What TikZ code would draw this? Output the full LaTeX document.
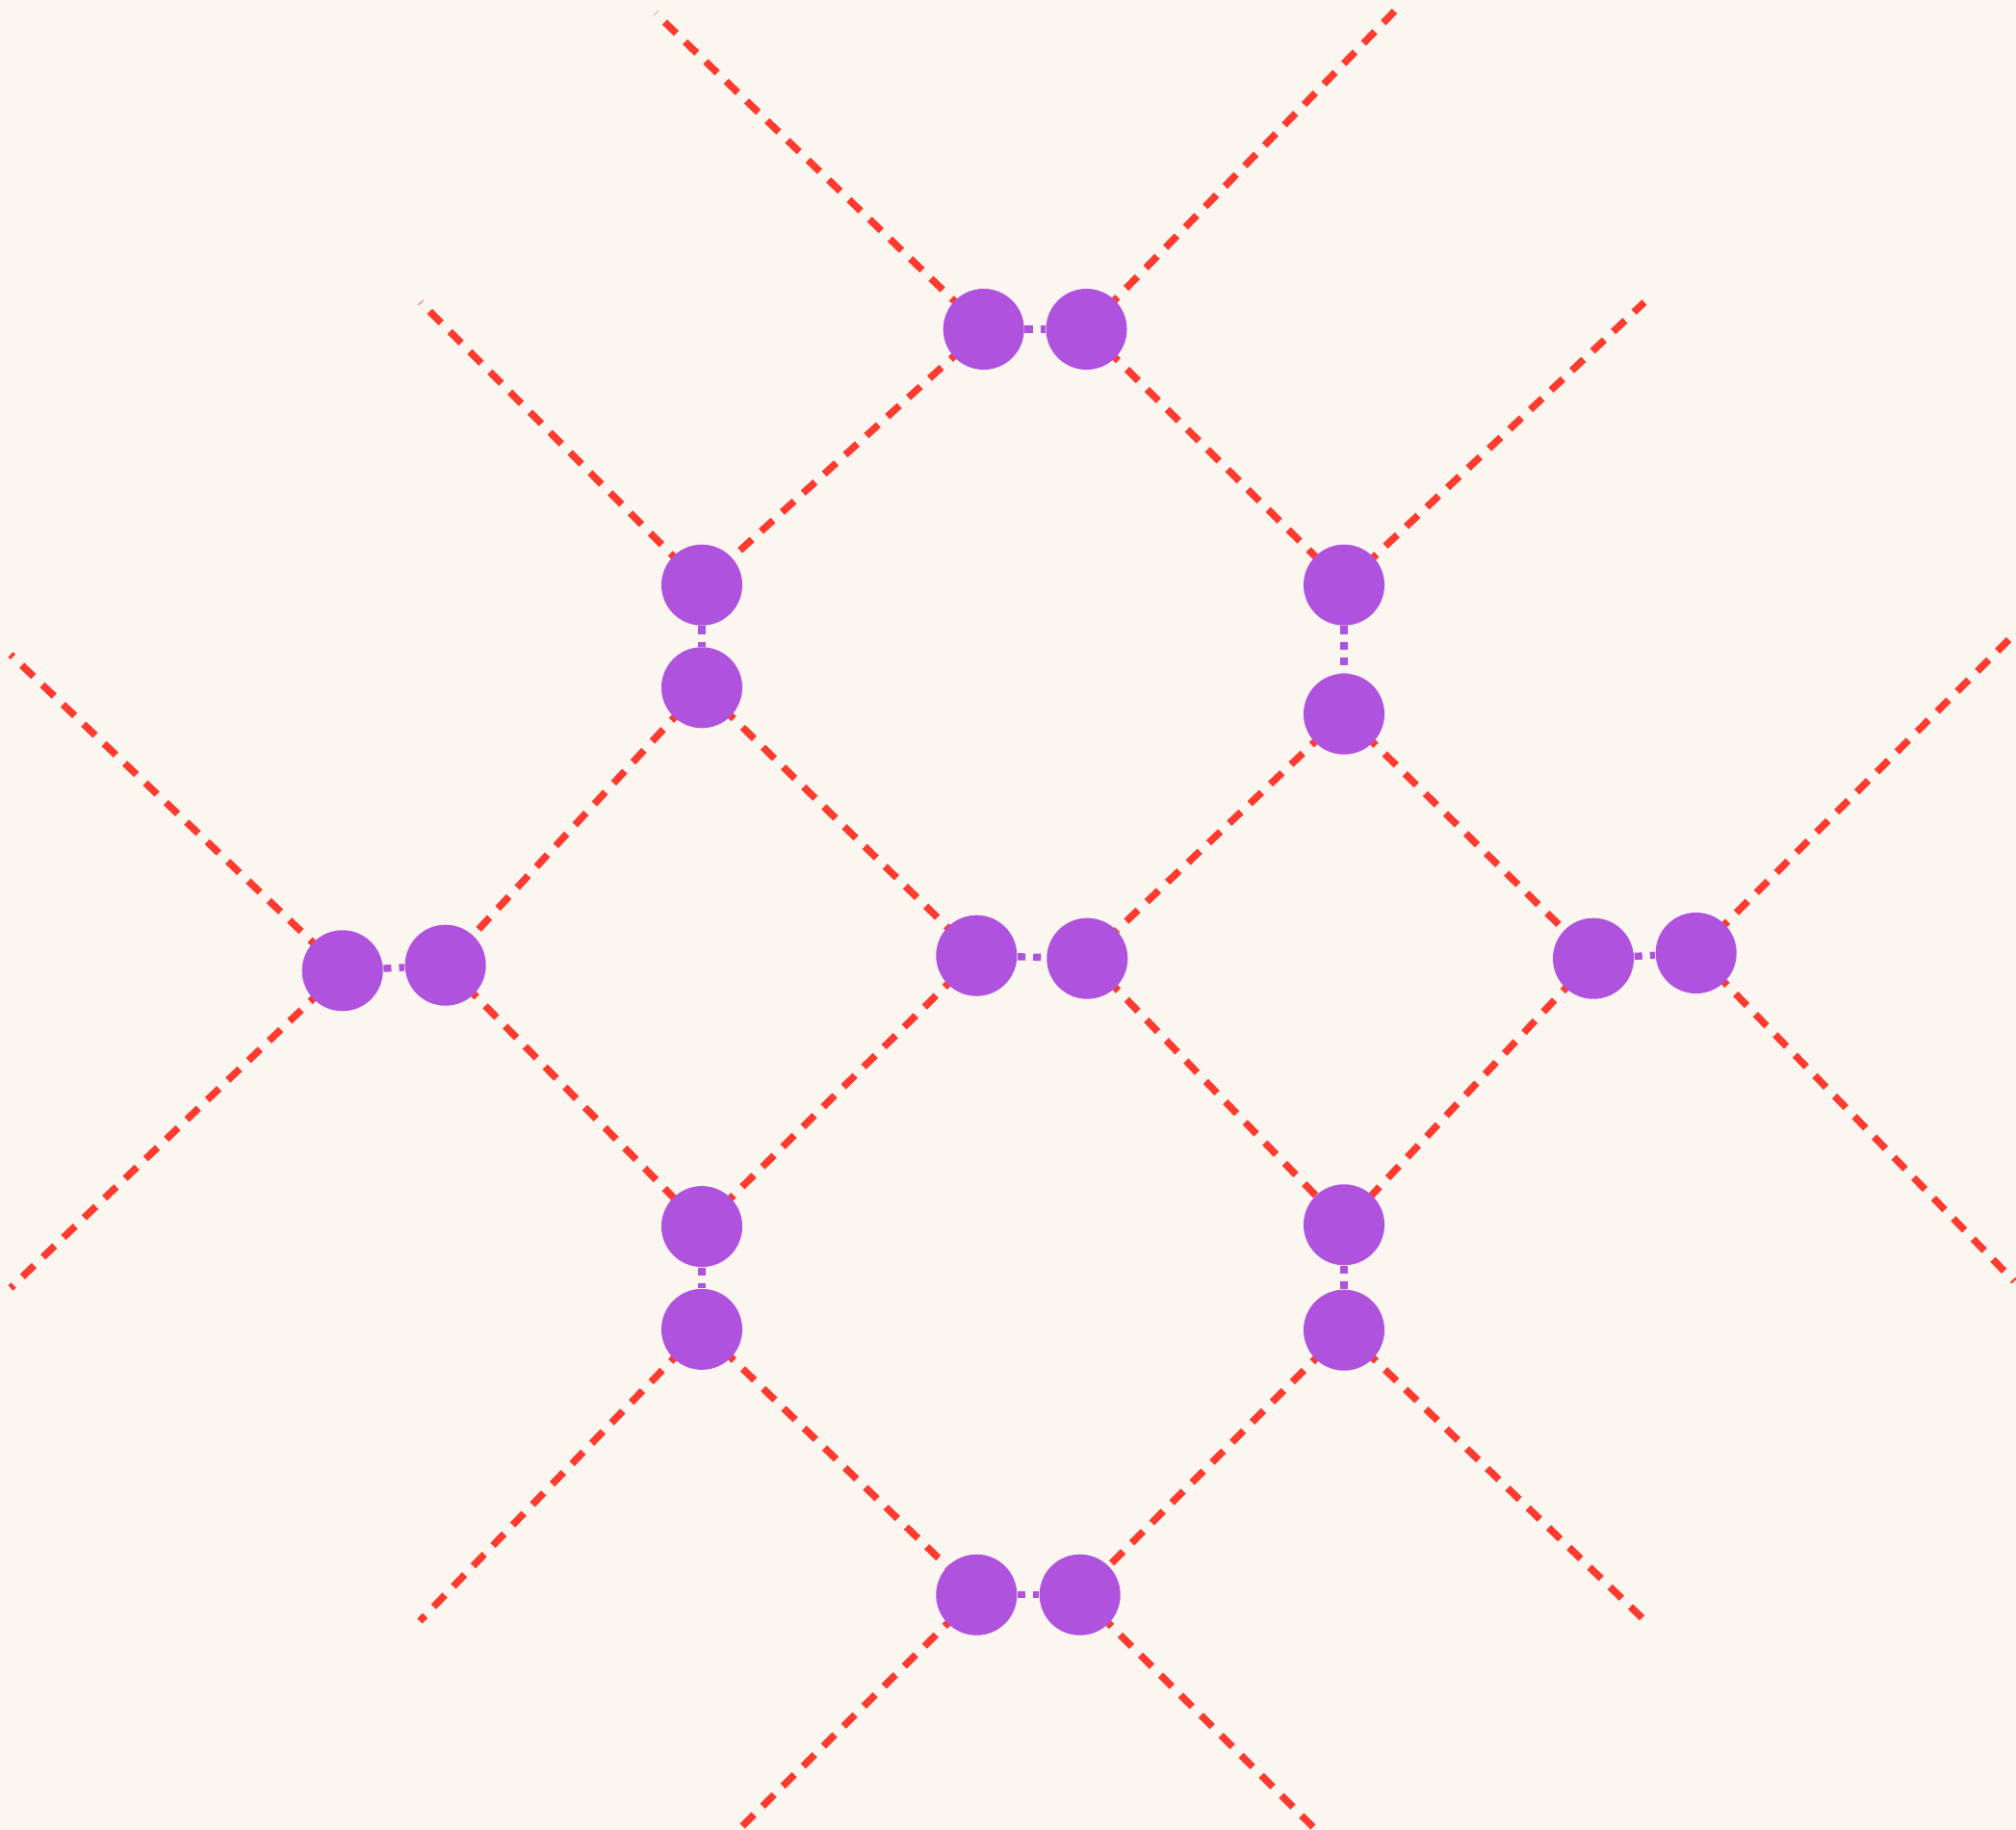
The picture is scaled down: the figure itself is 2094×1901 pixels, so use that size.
\documentclass[tikz,border=0pt]{standalone}
\usepackage{xcolor}
\usepackage{tikz}
\usetikzlibrary{shapes.geometric, positioning, calc}
\definecolor{fundo}{HTML}{FBF6F0}
\definecolor{roxo}{HTML}{AF52DE}
\definecolor{vermelho}{HTML}{FF3B30}
\pgfdeclarelayer{edges}
\pgfsetlayers{edges,main}

\begin{document}
\begin{tikzpicture}[x=0.01cm, y=-0.01cm,
    atom/.style={circle, fill=roxo, draw=none, minimum size=0.84cm, inner sep=0pt},
    bond/.style={draw=vermelho, line width=2.1pt, dash pattern=on 4.8pt off 3.6pt},
    pairlink/.style={draw=roxo, line width=2.1pt, dash pattern=on 2.3pt off 2.3pt}
]
    \useasboundingbox (0,0) rectangle (2094,1901);

    % Atoms (pairs)
    \node[atom] (top_l) at (1021.7,342) {};
    \node[atom] (top_r) at (1128.5,342) {};
    \node[atom] (nw_t) at (729,607.7) {};
    \node[atom] (nw_b) at (729,714.3) {};
    \node[atom] (ne_t) at (1396,607.7) {};
    \node[atom] (ne_b) at (1396,741.7) {};
    \node[atom] (w_l) at (355.7,1008.3) {};
    \node[atom] (w_r) at (462.7,1002.7) {};
    \node[atom] (c_l) at (1014.3,992.7) {};
    \node[atom] (c_r) at (1129.3,995.7) {};
    \node[atom] (e_l) at (1655,995.7) {};
    \node[atom] (e_r) at (1761.7,990) {};
    \node[atom] (sw_t) at (729,1274.1) {};
    \node[atom] (sw_b) at (729,1380.9) {};
    \node[atom] (se_t) at (1396,1272.3) {};
    \node[atom] (se_b) at (1396,1381.7) {};
    \node[atom] (bot_l) at (1014.3,1656.7) {};
    \node[atom] (bot_r) at (1121.7,1656.7) {};

    % Free ends
    \coordinate (end_a) at (681,14);
    \coordinate (end_b) at (1452,8);
    \coordinate (end_c) at (1708,314);
    \coordinate (end_d) at (437,314);
    \coordinate (end_e) at (2092,659);
    \coordinate (end_f) at (2092,1331);
    \coordinate (end_g) at (11,680);
    \coordinate (end_h) at (11,1338);
    \coordinate (end_i) at (436,1684);
    \coordinate (end_j) at (1709,1684);
    \coordinate (end_k) at (770,1898);
    \coordinate (end_l) at (1364,1898);

    \begin{pgfonlayer}{edges}
    \fill[fundo] (0,0) rectangle (2094,1901);

    % Bonds
    \draw[bond] (top_l.center) -- (end_a);
    \draw[bond] (top_r.center) -- (end_b);
    \draw[bond] (ne_t.center) -- (end_c);
    \draw[bond] (nw_t.center) -- (end_d);
    \draw[bond] (e_r.center) -- (end_e);
    \draw[bond] (e_r.center) -- (end_f);
    \draw[bond] (w_l.center) -- (end_g);
    \draw[bond] (w_l.center) -- (end_h);
    \draw[bond] (sw_b.center) -- (end_i);
    \draw[bond] (se_b.center) -- (end_j);
    \draw[bond] (bot_l.center) -- (end_k);
    \draw[bond] (bot_r.center) -- (end_l);

    \draw[bond] (top_l.center) -- (nw_t.center);
    \draw[bond] (top_r.center) -- (ne_t.center);
    \draw[bond] (nw_b.center) -- (w_r.center);
    \draw[bond] (nw_b.center) -- (c_l.center);
    \draw[bond] (ne_b.center) -- (c_r.center);
    \draw[bond] (ne_b.center) -- (e_l.center);
    \draw[bond] (w_r.center) -- (sw_t.center);
    \draw[bond] (c_l.center) -- (sw_t.center);
    \draw[bond] (c_r.center) -- (se_t.center);
    \draw[bond] (e_l.center) -- (se_t.center);
    \draw[bond] (sw_b.center) -- (bot_l.center);
    \draw[bond] (se_b.center) -- (bot_r.center);

    % Pair links
    \draw[pairlink] (top_l) -- (top_r);
    \draw[pairlink] (nw_t) -- (nw_b);
    \draw[pairlink] (ne_t) -- (ne_b);
    \draw[pairlink] (w_l) -- (w_r);
    \draw[pairlink] (c_l) -- (c_r);
    \draw[pairlink] (e_l) -- (e_r);
    \draw[pairlink] (sw_t) -- (sw_b);
    \draw[pairlink] (se_t) -- (se_b);
    \draw[pairlink] (bot_l) -- (bot_r);
    \end{pgfonlayer}
\end{tikzpicture}
\end{document}
